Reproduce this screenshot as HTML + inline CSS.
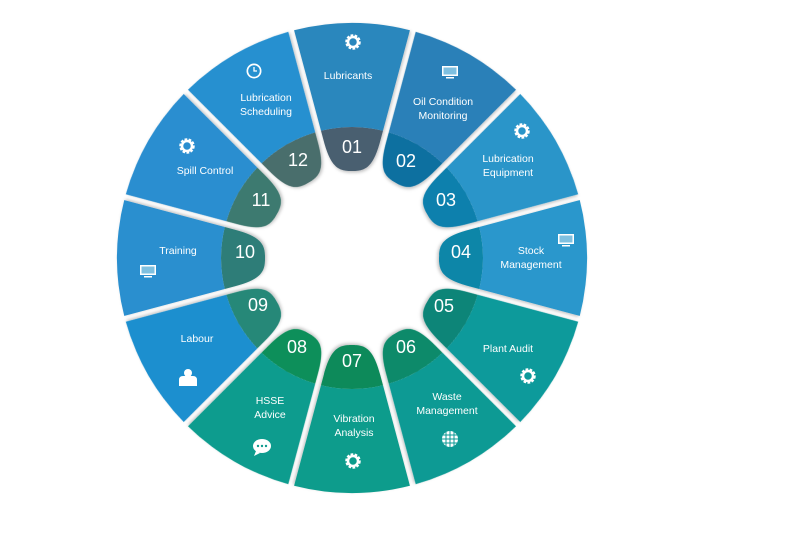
<!DOCTYPE html>
<html><head><meta charset="utf-8"><style>
html,body{margin:0;padding:0;background:#fff;width:797px;height:545px;overflow:hidden}
svg text{font-family:"Liberation Sans",sans-serif;fill:#fff}
.l{font-size:10.5px;text-anchor:middle}
.n{font-size:18px;text-anchor:middle}
</style></head><body>
<svg id="s" width="797" height="545" viewBox="0 0 797 545" xmlns="http://www.w3.org/2000/svg">
<defs><filter id="sh" x="-20%" y="-20%" width="140%" height="140%"><feDropShadow dx="1" dy="1.5" stdDeviation="1.5" flood-color="#000" flood-opacity="0.25"/></filter></defs>
<g id="segs"></g>
<g id="txt"></g>
</svg>
<script>
var cx=352,cy=258,R=235,RB=131,G=3;
var body=["#2b87bd","#2a80b8","#2a95c9","#2a97cc","#0a9a9b","#0b9a94","#0f9c8c","#109c8e","#1c8fcf","#2a8fcf","#2a8ed0","#2590d0"];
var tab=["#485e70","#0a6fa0","#0f80ad","#0b86a8","#0b8578","#0b8a6a","#0a8a5a","#0e8f5a","#278878","#2d7d78","#3e7a70","#4a6e6c"];
var A=15*Math.PI/180,s=Math.sin(A),c=Math.cos(A);
function P(r,sign){var d=Math.sqrt(r*r-G*G);return [sign*(d*s-G*c),-(d*c+G*s)];}
function f(p){return p[0].toFixed(2)+','+p[1].toFixed(2);}
var g=document.getElementById('segs'),h='';
for(var k=0;k<12;k++){
 var rot=k*30;
 var oL=P(R,-1),oR=P(R,1),bL=P(RB,-1),bR=P(RB,1),r1=120,tL=P(r1,-1),tR=P(r1,1),cL=P(92,-1),cR=P(92,1);
 var bo='M'+f(oL)+' A'+R+','+R+' 0 0 1 '+f(oR)+' L'+f(bR)+' A'+RB+','+RB+' 0 0 0 '+f(bL)+'Z';
 var tb='M'+f(bL)+' A'+RB+','+RB+' 0 0 1 '+f(bR)+' L'+f(tR)+' C'+f(cR)+' '+(tR[0]*0.45).toFixed(2)+',-87 0,-87 C'+(tL[0]*0.45).toFixed(2)+',-87 '+f(cL)+' '+f(tL)+'Z';
 h+='<g transform="translate('+cx+','+cy+') rotate('+rot+')" filter="url(#sh)"><path d="'+tb+'" fill="'+tab[k]+'"/><path d="'+bo+'" fill="'+body[k]+'"/></g>';
}
g.innerHTML=h;
var L=[
[[348,79,"Lubricants"]],
[[443,105,"Oil Condition"],[443,119,"Monitoring"]],
[[508,162,"Lubrication"],[508,176,"Equipment"]],
[[531,254,"Stock"],[531,268,"Management"]],
[[508,352,"Plant Audit"]],
[[447,400,"Waste"],[447,414,"Management"]],
[[354,422,"Vibration"],[354,436,"Analysis"]],
[[270,404,"HSSE"],[270,418,"Advice"]],
[[197,342,"Labour"]],
[[178,254,"Training"]],
[[205,174,"Spill Control"]],
[[266,101,"Lubrication"],[266,115,"Scheduling"]]];
var N=[[352,153],[406,167],[446,206],[461,258],[444,312],[406,353],[352,367],[297,353],[258,311],[245,258],[261,206],[298,166]];
var I=[["g",353,42],["m",450,72],["g",522,131],["m",566,240],["g",528,376],["w",450,439],["g",353,461],["c",262,447],["p",188,378],["m",148,271],["g",187,146],["k",254,71]];
var t='';
L.forEach(function(ls){ls.forEach(function(q){t+='<text class="l" x="'+q[0]+'" y="'+q[1]+'">'+q[2]+'</text>';});});
N.forEach(function(p,i){t+='<text class="n" x="'+p[0]+'" y="'+p[1]+'">'+(i<9?'0':'')+(i+1)+'</text>';});
I.forEach(function(q){var x=q[1],y=q[2];
 if(q[0]=="g"){t+='<circle cx="'+x+'" cy="'+y+'" r="6" fill="none" stroke="#fff" stroke-width="3.5" stroke-dasharray="2.4 1.3"/><circle cx="'+x+'" cy="'+y+'" r="5" fill="none" stroke="#fff" stroke-width="2.5"/>';}
 else if(q[0]=="m"){t+='<rect x="'+(x-8)+'" y="'+(y-6)+'" width="16" height="10" fill="#fff"/><rect x="'+(x-6.5)+'" y="'+(y-4.5)+'" width="13" height="7" fill="#7fc0e0"/><rect x="'+(x-4)+'" y="'+(y+5)+'" width="8" height="1.5" fill="#fff"/>';}
 else if(q[0]=="w"){t+='<circle cx="'+x+'" cy="'+y+'" r="8" fill="#fff"/><path d="M'+(x-8)+','+y+'h16M'+x+','+(y-8)+'v16M'+(x-7)+','+(y-4)+'h14M'+(x-7)+','+(y+4)+'h14M'+(x-4)+','+(y-7)+'v14M'+(x+4)+','+(y-7)+'v14" stroke="#0b9a94" stroke-width="1"/>';}
 else if(q[0]=="c"){t+='<ellipse cx="'+x+'" cy="'+(y-1)+'" rx="9" ry="7" fill="#fff"/><path d="M'+(x-6)+','+(y+4)+'l-2,5l6,-3z" fill="#fff"/><circle cx="'+(x-4)+'" cy="'+(y-1)+'" r="1.2" fill="#109c8e"/><circle cx="'+x+'" cy="'+(y-1)+'" r="1.2" fill="#109c8e"/><circle cx="'+(x+4)+'" cy="'+(y-1)+'" r="1.2" fill="#109c8e"/>';}
 else if(q[0]=="p"){t+='<circle cx="'+x+'" cy="'+(y-5)+'" r="4" fill="#fff"/><path d="M'+(x-9)+','+(y+8)+'v-6q0,-4 4,-4h10q4,0 4,4v6z" fill="#fff"/>';}
 else if(q[0]=="k"){t+='<circle cx="'+x+'" cy="'+y+'" r="7.5" fill="#fff"/><circle cx="'+x+'" cy="'+y+'" r="5.8" fill="#2590d0"/><path d="M'+x+','+(y-4)+'v4h3" stroke="#fff" stroke-width="1.3" fill="none"/>';}
});
document.getElementById('txt').innerHTML=t;
</script>
</body></html>
